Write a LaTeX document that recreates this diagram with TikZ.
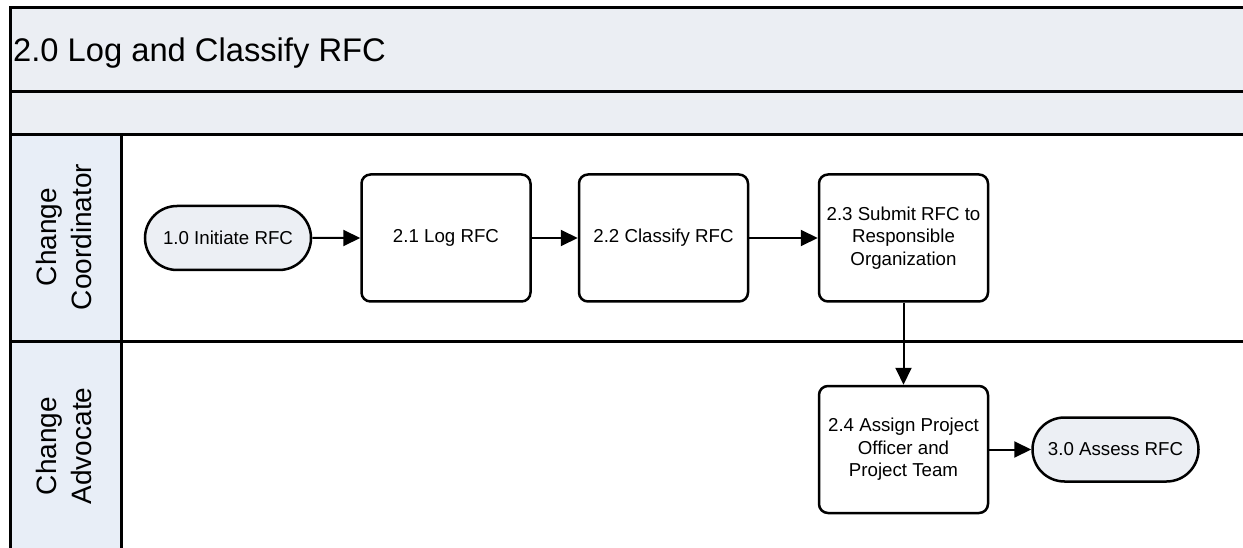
\documentclass[tikz,border=0pt]{standalone}
\usepackage{fontspec}
\setmainfont{Liberation Sans}
\usetikzlibrary{arrows.meta,shapes.misc}
\definecolor{headfill}{RGB}{235,238,243}
\definecolor{lanefill}{RGB}{232,238,247}
\definecolor{termfill}{RGB}{236,239,244}
\begin{document}
\begin{tikzpicture}[x=1pt,y=-1pt,
  task/.style={draw, line width=2.5pt, rounded corners=9pt, minimum width=169pt,
    minimum height=127pt, align=center, fill=white, inner sep=2pt,
    font=\fontsize{18.7}{22.5}\selectfont},
  terminal/.style={draw, line width=2.5pt, rounded rectangle, minimum width=170pt,
    minimum height=64pt, fill=termfill, inner sep=2pt,
    font=\fontsize{18.7}{22.5}\selectfont},
  flow/.style={line width=2pt, -{Triangle[length=17pt,width=16pt]}},
  frame/.style={line width=3pt},
  lanelabel/.style={rotate=90, align=center, inner sep=0pt,
    font=\fontsize{28}{35}\selectfont}
]
\useasboundingbox (0,0) rectangle (1243,548);

% pool header and lane label column
\fill[headfill] (10,8) rectangle (1243,135);
\fill[lanefill] (10,135) rectangle (121,548);

% pool frame and lane separators
\draw[frame] (1243,8) -- (10,8) -- (10,548);
\draw[frame] (10,92) -- (1243,92);
\draw[frame] (10,135) -- (1243,135);
\draw[frame] (121,135) -- (121,548);
\draw[frame] (10,341) -- (1243,341);

% titles
\node[anchor=base west, inner sep=0pt, font=\fontsize{32.7}{38}\selectfont]
  (title) at (13,62) {2.0 Log and Classify RFC};
\node[lanelabel] (laneA) at (64,237) {Change\\Coordinator};
\node[lanelabel] (laneB) at (64,446) {Change\\Advocate};

% process steps
\node[terminal] (init) at (228,238) {1.0 Initiate RFC};
\node[task] (log) at (446,238) {2.1 Log RFC};
\node[task] (classify) at (663.5,238) {2.2 Classify RFC};
\node[task] (submit) at (903.5,238) {2.3 Submit RFC to\\Responsible\\Organization};
\node[task] (assign) at (903.5,449.5) {2.4 Assign Project\\Officer and\\Project Team};
\node[terminal] (assess) at (1115.5,449.5) {3.0 Assess RFC};

% flow connectors
\draw[flow] (init) -- (log);
\draw[flow] (log) -- (classify);
\draw[flow] (classify) -- (submit);
\draw[flow] (submit) -- (assign);
\draw[flow] (assign) -- (assess);
\end{tikzpicture}
\end{document}
